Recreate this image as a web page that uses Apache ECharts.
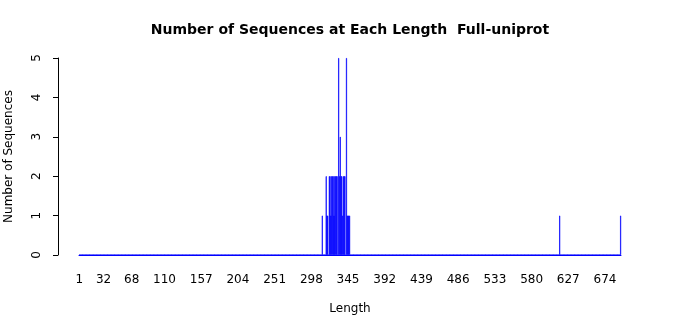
<!DOCTYPE html>
<html>
<head>
<meta charset="utf-8">
<script src="https://cdn.jsdelivr.net/npm/echarts@6/dist/echarts.min.js"></script>
<style>html,body{margin:0;padding:0;background:#fff}#c{width:700px;height:315px}</style>
</head>
<body>
<div id="c"></div>
<script>
// Sequence lengths present and the number of sequences at each
const maxLength = 694;
const lengths = [312, 317, 318, 319, 321, 322, 323, 324, 325, 326, 327, 328, 329, 330, 331,
                 333, 334, 335, 336, 337, 338, 339, 340, 341, 343, 344, 345, 346, 347, 616, 694];
const counts  = [1,   2,   1,   1,   2,   2,   1,   2,   2,   2,   1,   2,   2,   2,   2,
                 5,   2,   3,   2,   2,   1,   2,   2,   2,   5,   1,   1,   1,   1,   1,   1];
const xTickLabels = [1, 32, 68, 110, 157, 204, 251, 298, 345, 392, 439, 486, 533, 580, 627, 674];
const yTicks = [0, 1, 2, 3, 4, 5];

const categories = [];
const values = [];
for (let L = 1; L <= maxLength; L++) { categories.push(String(L)); values.push(0); }
lengths.forEach((L, i) => { values[L - 1] = counts[i]; });
const labelSet = new Set(xTickLabels.map(String));

const FONT = 'DejaVu Sans';
const chart = echarts.init(document.getElementById('c'), null, {renderer: 'canvas'});
chart.setOption({
  animation: false,
  backgroundColor: '#fff',
  textStyle: {fontFamily: FONT},
  title: {
    text: 'Number of Sequences at Each Length  Full-uniprot',
    left: 'center', top: 18,
    textStyle: {fontFamily: FONT, fontWeight: 'bold', fontSize: 14, color: '#000'}
  },
  grid: {left: 79, right: 79, top: 58, bottom: 60, containLabel: false, outerBoundsMode: 'none'},
  xAxis: {
    type: 'category',
    data: categories,
    boundaryGap: true,
    name: 'Length', nameLocation: 'middle', nameGap: 48,
    nameTextStyle: {fontFamily: FONT, fontSize: 12, color: '#000'},
    axisLine: {show: true, lineStyle: {color: '#0000ff', width: 1}},
    axisTick: {show: false},
    axisLabel: {
      interval: (idx, val) => labelSet.has(val),
      margin: 19, fontFamily: FONT, fontSize: 12, color: '#000'
    },
    splitLine: {show: false}
  },
  yAxis: {
    type: 'value', min: yTicks[0], max: yTicks[yTicks.length - 1], interval: 1,
    offset: 21,
    name: 'Number of Sequences', nameLocation: 'middle', nameGap: 43,
    nameTextStyle: {fontFamily: FONT, fontSize: 12, color: '#000'},
    axisLine: {show: true, lineStyle: {color: '#000', width: 1}},
    axisTick: {show: true, length: 5, lineStyle: {color: '#000'}},
    axisLabel: {rotate: 90, margin: 15, fontFamily: FONT, fontSize: 12, color: '#000'},
    splitLine: {show: false}
  },
  series: [{
    type: 'bar',
    data: values,
    barCategoryGap: '0%',
    itemStyle: {color: '#0000ff', borderColor: '#0000ff', borderWidth: 0.6},
    large: false
  }]
});
</script>
</body>
</html>
